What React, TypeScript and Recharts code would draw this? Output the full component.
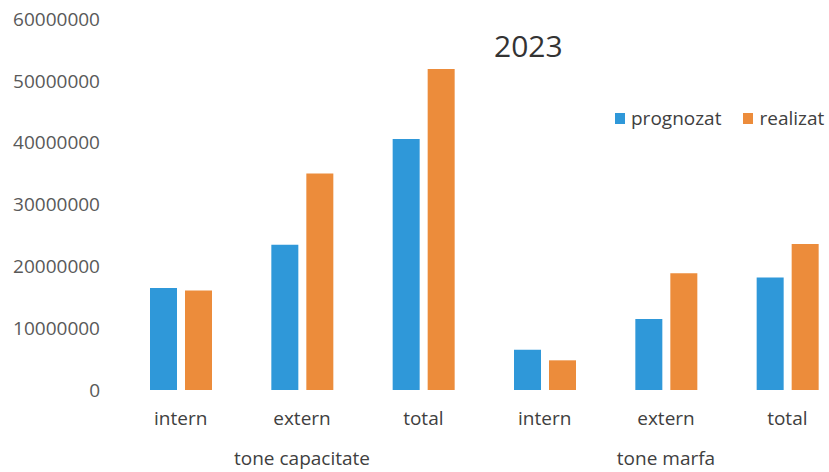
import React from 'react';
import { BarChart, Bar, XAxis, YAxis } from 'recharts';

const categories = ['intern', 'extern', 'total', 'intern', 'extern', 'total'];
const groups = ['tone capacitate', 'tone capacitate', 'tone capacitate', 'tone marfa', 'tone marfa', 'tone marfa'];
const prognozat = [16500000, 23500000, 40600000, 6500000, 11500000, 18200000];
const realizat = [16100000, 35000000, 51900000, 4800000, 18900000, 23600000];
const yTicks = [0, 10000000, 20000000, 30000000, 40000000, 50000000, 60000000];

const BLUE = '#2F98D9';
const ORANGE = '#EC8C3B';
const FONT = '"Open Sans", "Noto Sans", sans-serif';

const series = [
  { key: 'prognozat', color: BLUE },
  { key: 'realizat', color: ORANGE },
];

const data = categories.map((cat, i) => ({
  cat,
  group: groups[i],
  prognozat: prognozat[i],
  realizat: realizat[i],
}));

const CategoryTick = (props: any) => {
  const { x, y, payload, index } = props;
  const members = groups.map((g, i) => (g === groups[index] ? i : -1)).filter((i) => i >= 0);
  const isMiddle = members[Math.floor(members.length / 2)] === index;
  return (
    <g>
      <text x={x} y={y + 35} textAnchor="middle" fill="#404040" fontSize={19} fontFamily={FONT}>
        {payload.value}
      </text>
      {isMiddle && (
        <text x={x} y={y + 75} textAnchor="middle" fill="#404040" fontSize={19} fontFamily={FONT}>
          {groups[index]}
        </text>
      )}
    </g>
  );
};

const App: React.FC = () => {
  return (
    <div style={{ position: 'fixed', top: 0, left: 0, width: 829, height: 472, overflow: 'hidden', background: '#fff' }}>
      <div
        style={{
          position: 'absolute',
          left: 494,
          top: 28,
          fontFamily: FONT,
          fontSize: 30,
          color: '#333',
          lineHeight: '36px',
        }}
      >
        2023
      </div>
      <div
        style={{
          position: 'absolute',
          left: 615,
          top: 104,
          display: 'flex',
          gap: 22,
          fontFamily: FONT,
          fontSize: 19,
          color: '#404040',
          lineHeight: '28px',
          zIndex: 1,
        }}
      >
        {series.map((s) => (
          <div key={s.key} style={{ display: 'flex', alignItems: 'center', gap: 6 }}>
            <span style={{ width: 10, height: 11, background: s.color, display: 'inline-block' }} />
            <span>{s.key}</span>
          </div>
        ))}
      </div>
      <BarChart
        width={850}
        height={472}
        data={data}
        margin={{ top: 19, right: 2, bottom: 0, left: 0 }}
        barSize={27}
        barGap={8}
      >
        <YAxis
          width={120}
          domain={[0, 60000000]}
          ticks={yTicks}
          interval={0}
          axisLine={false}
          tickLine={false}
          tickSize={0}
          tickMargin={20}
          tick={{ fill: '#595959', fontSize: 19, fontFamily: FONT }}
        />
        <XAxis
          dataKey="cat"
          height={82}
          interval={0}
          axisLine={false}
          tickLine={false}
          tickSize={0}
          tickMargin={0}
          tick={<CategoryTick />}
        />
        {series.map((s) => (
          <Bar key={s.key} dataKey={s.key} name={s.key} fill={s.color} isAnimationActive={false} />
        ))}
      </BarChart>
    </div>
  );
};

export default App;
